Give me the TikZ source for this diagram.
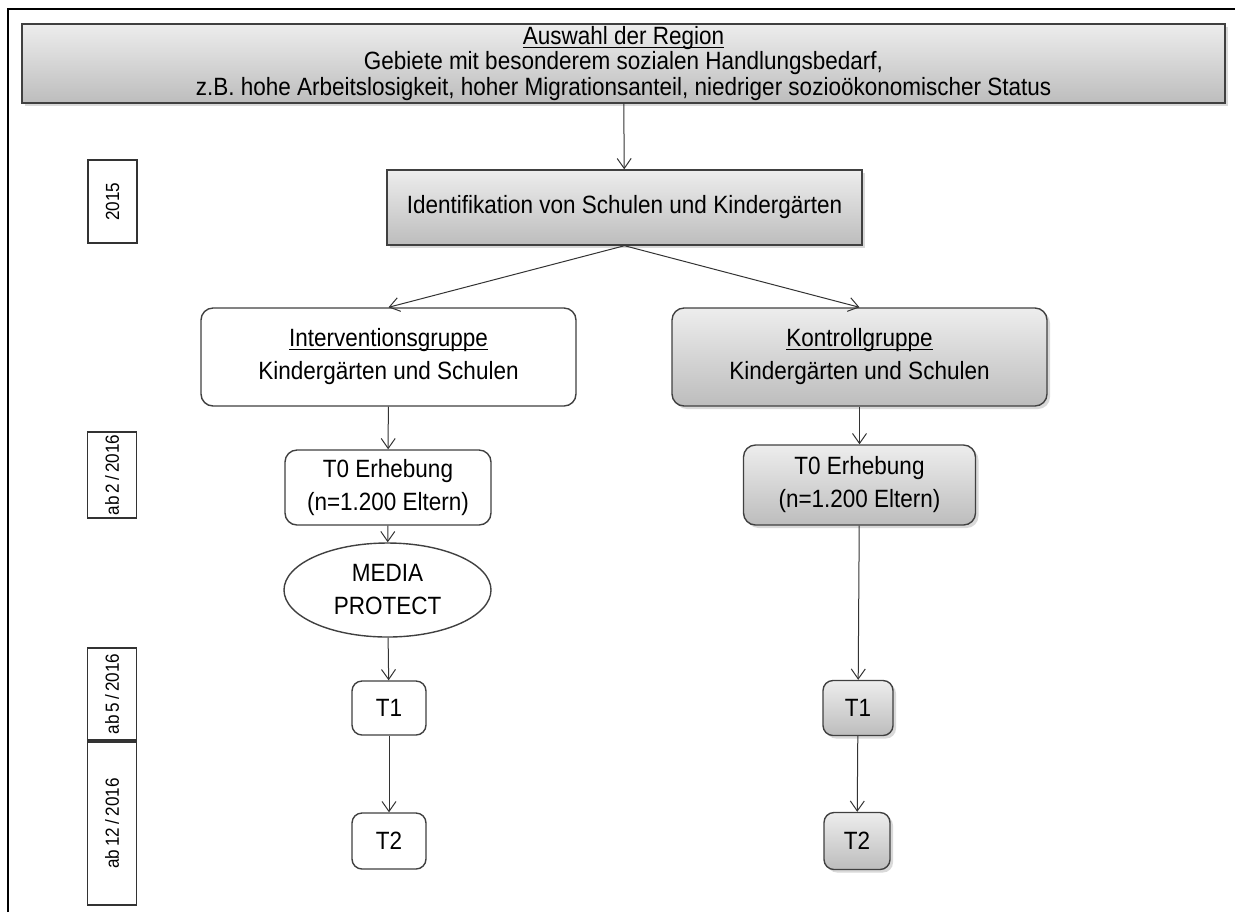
\documentclass[tikz,border=0pt]{standalone}
\usepackage{fontspec}
\setmainfont{Liberation Sans}[FakeStretch=0.9]
\usetikzlibrary{arrows.meta}
\usetikzlibrary{shapes.geometric}
\usetikzlibrary{shadows}

% underline close to the baseline
\newcommand{\ulbox}[1]{\setbox0\hbox{#1}\rlap{\rule[-1.6pt]{\wd0}{0.6pt}}\box0}

\begin{document}
\begin{tikzpicture}[x=0.5pt, y=-0.5pt,
    box/.style = {draw=black!75, line width=0.7pt, inner sep=0pt, align=center,
                  font=\fontsize{12.5}{16.5}\selectfont},
    grey/.style = {top color=gray!14, bottom color=gray!52,
                   drop shadow={opacity=0.3, shadow xshift=1.5pt, shadow yshift=-1.5pt}},
    rbox/.style = {box, rounded corners=6pt},
    yearbox/.style = {draw=black!80, line width=0.6pt, inner sep=0pt, minimum width=24.5pt,
                      font=\fontsize{9.5}{10}\selectfont},
    arr/.style = {-{Straight Barb[length=5pt, width=7pt]}, line width=0.5pt, draw=black!80}]
    \useasboundingbox (0,0) rectangle (1235,912);

    % draw outer frame
    \draw[line width=1pt] (8,912) -- (8,9) -- (1235,9);

    % draw top boxes
    \node[box, grey, font=\fontsize{12.5}{11.2}\selectfont, minimum width=601.5pt, minimum height=39.5pt] (region) at (623.5,63.5)
      {\ulbox{Auswahl der Region}\\ Gebiete mit besonderem sozialen Handlungsbedarf,\\
       z.B. hohe Arbeitslosigkeit, hoher Migrationsanteil, niedriger sozioökonomischer Status};
    \node[box, grey, minimum width=237.5pt, minimum height=37.5pt] (ident) at (624.5,207.5)
      {Identifikation von Schulen und Kindergärten};

    % draw groups
    \node[rbox, fill=white, minimum width=187.5pt, minimum height=49pt] (ivg) at (388.5,357)
      {\ulbox{Interventionsgruppe}\\ Kindergärten und Schulen};
    \node[rbox, grey, minimum width=187.5pt, minimum height=49pt] (kg) at (859.5,357)
      {\ulbox{Kontrollgruppe}\\ Kindergärten und Schulen};

    % draw left column
    \node[rbox, fill=white, minimum width=103pt, minimum height=37.5pt] (ivT0) at (388,487.5)
      {T0 Erhebung\\ (n=1.200 Eltern)};
    \node[box, ellipse, minimum width=103.5pt, minimum height=47pt] (mp) at (387.5,590)
      {MEDIA\\ PROTECT};
    \node[rbox, fill=white, rounded corners=5pt, minimum width=37pt, minimum height=27pt] (ivT1) at (389,708) {T1};
    \node[rbox, fill=white, rounded corners=5pt, minimum width=37pt, minimum height=28pt] (ivT2) at (389,841) {T2};

    % draw right column
    \node[rbox, grey, minimum width=116pt, minimum height=40pt] (kgT0) at (859.5,485)
      {T0 Erhebung\\ (n=1.200 Eltern)};
    \node[rbox, grey, rounded corners=5pt, minimum width=35pt, minimum height=27.5pt] (kgT1) at (858,708) {T1};
    \node[rbox, grey, rounded corners=5pt, minimum width=33pt, minimum height=28.5pt] (kgT2) at (857,841) {T2};

    % draw year boxes
    \node[yearbox, minimum height=41.5pt] (y15) at (112.5,201.5) {\rotatebox{90}{2015}};
    \node[yearbox, minimum height=43pt] (y2) at (112,475) {\rotatebox{90}{ab\,2\,/\,2016}};
    \node[yearbox, minimum height=46pt] (y5) at (112,694) {\rotatebox{90}{ab\,5\,/\,2016}};
    \node[yearbox, minimum height=81.5pt] (y12) at (112,823.5) {\rotatebox{90}{ab\,12\,/\,2016}};

    % draw arrows
    \draw[arr] (region) -- (ident);
    \draw[arr] (ident.south) -- (ivg.north);
    \draw[arr] (ident.south) -- (kg.north);
    \foreach \a/\b in {ivg/ivT0, ivT0/mp, mp/ivT1, ivT1/ivT2, kg/kgT0, kgT0/kgT1, kgT1/kgT2}
      \draw[arr] (\a) -- (\b);
\end{tikzpicture}
\end{document}
